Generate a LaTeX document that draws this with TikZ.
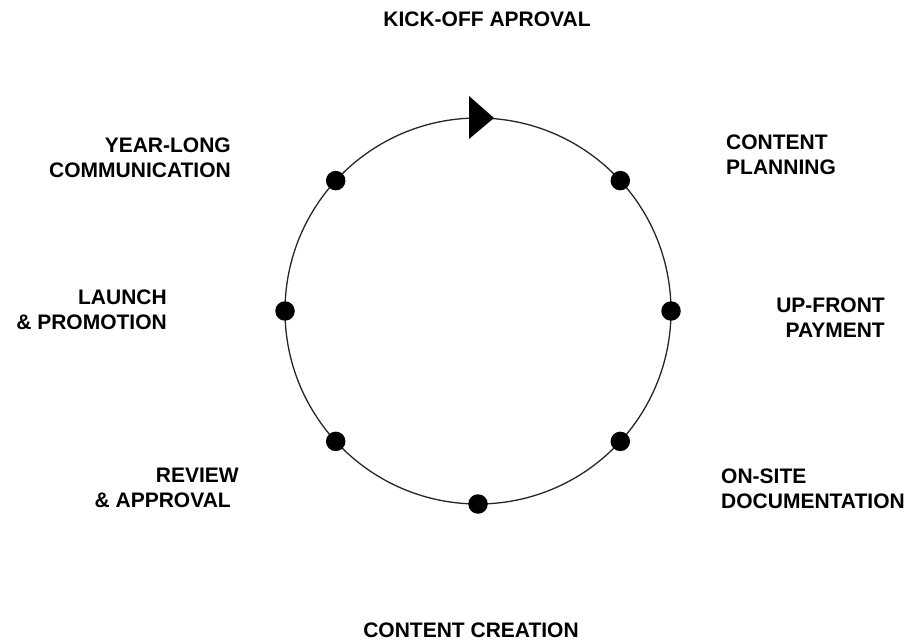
\documentclass[tikz,border=0pt]{standalone}
\usepackage{fontspec}
\setmainfont{Liberation Sans}
\begin{document}
\begin{tikzpicture}[x=1pt,y=-1pt,
  lbl/.style={inner sep=0pt, font=\fontsize{21}{24.5}\selectfont\bfseries},
  ring/.style={draw=black!85, line width=1.3pt},
  stage/.style={circle, fill=black, inner sep=0pt, minimum size=19.5pt},
]
\useasboundingbox (0,0) rectangle (915,644);

% the cycle
\coordinate (c) at (478,311);
\draw[ring] (c) circle[radius=193];

% start marker at the top of the cycle
\fill (469,96) -- (494,118) -- (469,139) -- cycle;

% stage dots (angles run clockwise, y axis points down)
\node[stage] (s1) at ([shift={(-42.5:193)}]c) {};
\node[stage] (s2) at ([shift={(0:193)}]c) {};
\node[stage] (s3) at ([shift={(42.5:193)}]c) {};
\node[stage] (s4) at ([shift={(90:193)}]c) {};
\node[stage] (s5) at ([shift={(137.5:193)}]c) {};
\node[stage] (s6) at ([shift={(180:193)}]c) {};
\node[stage] (s7) at ([shift={(222.5:193)}]c) {};

% stage labels
\node[lbl, anchor=north] (kick) at (487,12) {KICK-OFF APROVAL};
\node[lbl, anchor=north west, align=left] (plan) at (726,135) {CONTENT\\PLANNING};
\node[lbl, anchor=north east, align=right] (pay) at (885,298) {UP-FRONT\\PAYMENT};
\node[lbl, anchor=north west, align=left] (doc) at (721,469) {ON-SITE\\DOCUMENTATION};
\node[lbl, anchor=north] (create) at (471,623) {CONTENT CREATION};
\node[lbl, anchor=north east, align=right] (review) at (239,468) {REVIEW\\\& APPROVAL\kern8pt};
\node[lbl, anchor=north east, align=right] (launch) at (167,290) {LAUNCH\\\& PROMOTION};
\node[lbl, anchor=north east, align=right] (year) at (231,138) {YEAR-LONG\\COMMUNICATION};
\end{tikzpicture}
\end{document}
